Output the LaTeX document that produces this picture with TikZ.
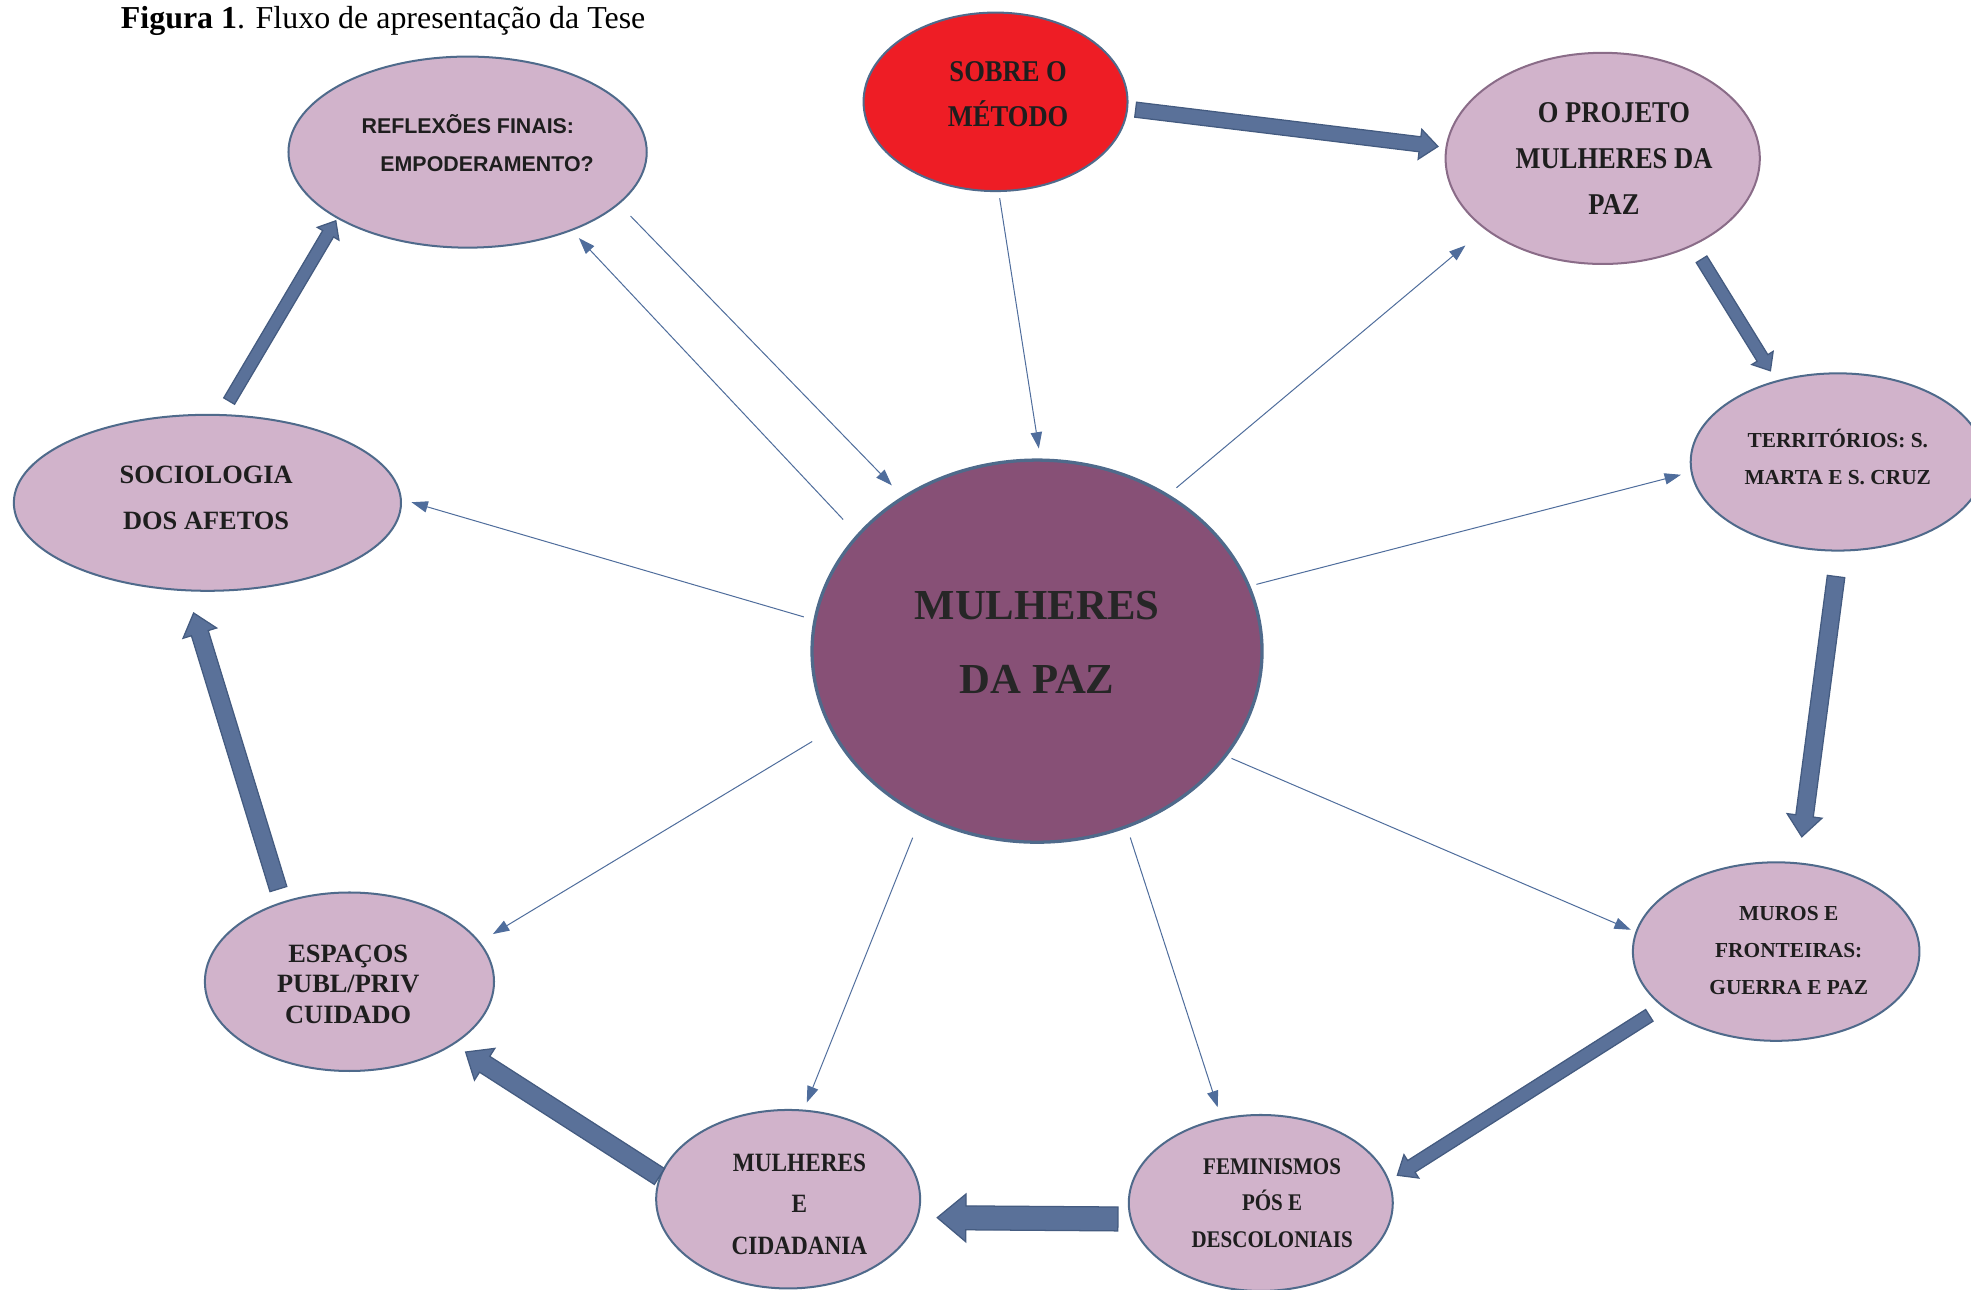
\documentclass[tikz,border=0pt]{standalone}
\usepackage{fontspec}
\setmainfont{Liberation Serif}
\newfontfamily\narrowfont[FakeStretch=0.88]{Liberation Serif}
\newfontfamily\arialfont{Liberation Sans}
\usetikzlibrary{shapes.geometric,arrows.meta,calc}

\definecolor{lilac}{HTML}{D1B3CB}
\definecolor{rim}{HTML}{4F6A8B}
\definecolor{plum}{HTML}{875076}
\definecolor{hot}{HTML}{EE1D25}
\definecolor{link}{HTML}{4F6D9C}
\definecolor{fatfill}{HTML}{5A7199}
\definecolor{fatrim}{HTML}{445B80}
\definecolor{ink}{HTML}{1E1E1E}

% big block arrow: from, to, gap at start, gap at end, half width of shaft
\newcommand\bigarrow[5]{%
  \path[fatarrow] let \p1=(#1), \p2=(#2),
      \n1={atan2(\y2-\y1,\x2-\x1)}, \n2={veclen(\x2-\x1,\y2-\y1)-#4} in
    [shift={(\p1)}, rotate=\n1]
    (#3,#5) -- ({\n2-2.4*#5},#5) -- ({\n2-2.4*#5},{2*#5}) -- (\n2,0)
    -- ({\n2-2.4*#5},{-2*#5}) -- ({\n2-2.4*#5},-#5) -- (#3,-#5) -- cycle;}

\begin{document}
\begin{tikzpicture}[x=1pt, y=-1pt,
  topic/.style={ellipse, draw=rim, line width=1.6pt, fill=lilac, inner sep=0pt},
  caption/.style={text=ink, inner sep=0pt, align=center},
  spoke/.style={draw=link, line width=0.8pt, -{Triangle[length=13pt,width=9pt]}},
  fatarrow/.style={fill=fatfill, draw=fatrim, line width=1pt, line join=miter}]
\useasboundingbox (0,0) rectangle (1568,1026);

\node[anchor=base west, inner sep=0pt, font=\fontsize{25.4}{30}\selectfont] (title) at (96,23)
  {\textbf{Figura 1}. Fluxo de apresentação da Tese};

% the hub
\node[ellipse, draw=rim, line width=2.6pt, fill=plum, minimum width=358, minimum height=304,
      inner sep=0pt] (ctr) at (825,518) {};
\node[caption, text={rgb,255:red,38;green,38;blue,38}, font=\bfseries\fontsize{34}{59}\selectfont]
  (ctr-txt) at ([shift={(0,-7)}]ctr.center) {MULHERES\\DA PAZ};

% the ring
\node[topic, fill=hot, minimum width=210, minimum height=142] (sobre) at (792,81) {};
\node[caption, font=\narrowfont\bfseries\fontsize{24}{36}\selectfont]
  (sobre-txt) at ([shift={(10,-6)}]sobre.center) {SOBRE O\\MÉTODO};

\node[topic, draw={rgb,255:red,138;green,108;blue,136}, minimum width=250, minimum height=168] (proj) at (1275,126) {};
\node[caption, font=\narrowfont\bfseries\fontsize{24}{36.5}\selectfont]
  (proj-txt) at ([shift={(9,0)}]proj.center) {O PROJETO\\MULHERES DA\\PAZ};

\node[topic, minimum width=234, minimum height=141] (terr) at (1462,367.5) {};
\node[caption, font=\bfseries\fontsize{17}{29}\selectfont]
  (terr-txt) at ([shift={(0,-4)}]terr.center) {TERRITÓRIOS: S.\\MARTA E S. CRUZ};

\node[topic, minimum width=228, minimum height=142] (muros) at (1413,757) {};
\node[caption, font=\bfseries\fontsize{17}{29.5}\selectfont]
  (muros-txt) at ([shift={(10,-1)}]muros.center) {MUROS E\\FRONTEIRAS:\\GUERRA E PAZ};

\node[topic, minimum width=210, minimum height=140] (fem) at (1003,957) {};
\node[caption, font=\narrowfont\bfseries\fontsize{19}{29}\selectfont]
  (fem-txt) at ([shift={(9,0)}]fem.center) {FEMINISMOS\\PÓS E\\DESCOLONIAIS};

\node[topic, minimum width=210, minimum height=142] (mulh) at (627,954) {};
\node[caption, font=\narrowfont\bfseries\fontsize{21}{33}\selectfont]
  (mulh-txt) at ([shift={(9,4)}]mulh.center) {MULHERES\\E\\CIDADANIA};

\node[topic, minimum width=230, minimum height=142] (esp) at (278,781) {};
\node[caption, font=\bfseries\fontsize{21}{24.5}\selectfont]
  (esp-txt) at ([shift={(-1,2)}]esp.center) {ESPAÇOS\\PUBL/PRIV\\CUIDADO};

\node[topic, minimum width=308, minimum height=140] (soc) at (165,400) {};
\node[caption, font=\bfseries\fontsize{21}{36}\selectfont]
  (soc-txt) at ([shift={(-1,-4)}]soc.center) {SOCIOLOGIA\\DOS AFETOS};

\node[topic, minimum width=285, minimum height=152] (refl) at (372,121) {};
\node[caption, align=left, font=\arialfont\bfseries\fontsize{17}{30}\selectfont]
  (refl-txt) at ([shift={(8,-7)}]refl.center) {REFLEXÕES FINAIS:\\\hspace*{15pt}EMPODERAMENTO?};

% thin spokes
\draw[spoke, shorten <=5pt, shorten >=8pt] (sobre.-88) -- (ctr.89);
\draw[spoke, shorten <=16pt, shorten >=8pt] (ctr.147) -- (refl.-37);
\draw[spoke, shorten <=13pt, shorten >=12pt] (refl.-19) -- (ctr.131);
\draw[spoke, shorten <=8pt, shorten >=20pt] (ctr.50) -- (proj.-149);
\draw[spoke, shorten <=5pt, shorten >=8pt] (ctr.17) -- (terr.184);
\draw[spoke, shorten <=8pt, shorten >=8pt] (ctr.172) -- (soc.1);
\draw[spoke, shorten <=17pt, shorten >=12pt] (ctr.201) -- (esp.17);
\draw[spoke, shorten <=18pt, shorten >=6pt] (ctr.235) -- (mulh.80);
\draw[spoke, shorten <=8pt, shorten >=9pt] (ctr.-63) -- (fem.115);
\draw[spoke, shorten <=4pt, shorten >=4pt] (ctr.-29) -- (muros.172);

% fat arrows round the ring
\bigarrow{sobre.-3}{proj.176}{6}{6}{6}
\bigarrow{proj.-44}{terr.127}{12.6}{9}{5}
\bigarrow{terr.-89}{muros.76}{20}{20.5}{7}
\bigarrow{muros.206}{fem.10}{12.3}{7.5}{5.5}
\bigarrow{fem.187}{mulh.-8}{9.6}{15}{9.5}
\bigarrow{mulh.170}{esp.-31}{0}{11}{7.5}
\bigarrow{esp.130}{soc.-103}{10.5}{18}{7}
\bigarrow{soc.81}{refl.-153}{12}{2}{5}

\end{tikzpicture}
\end{document}
